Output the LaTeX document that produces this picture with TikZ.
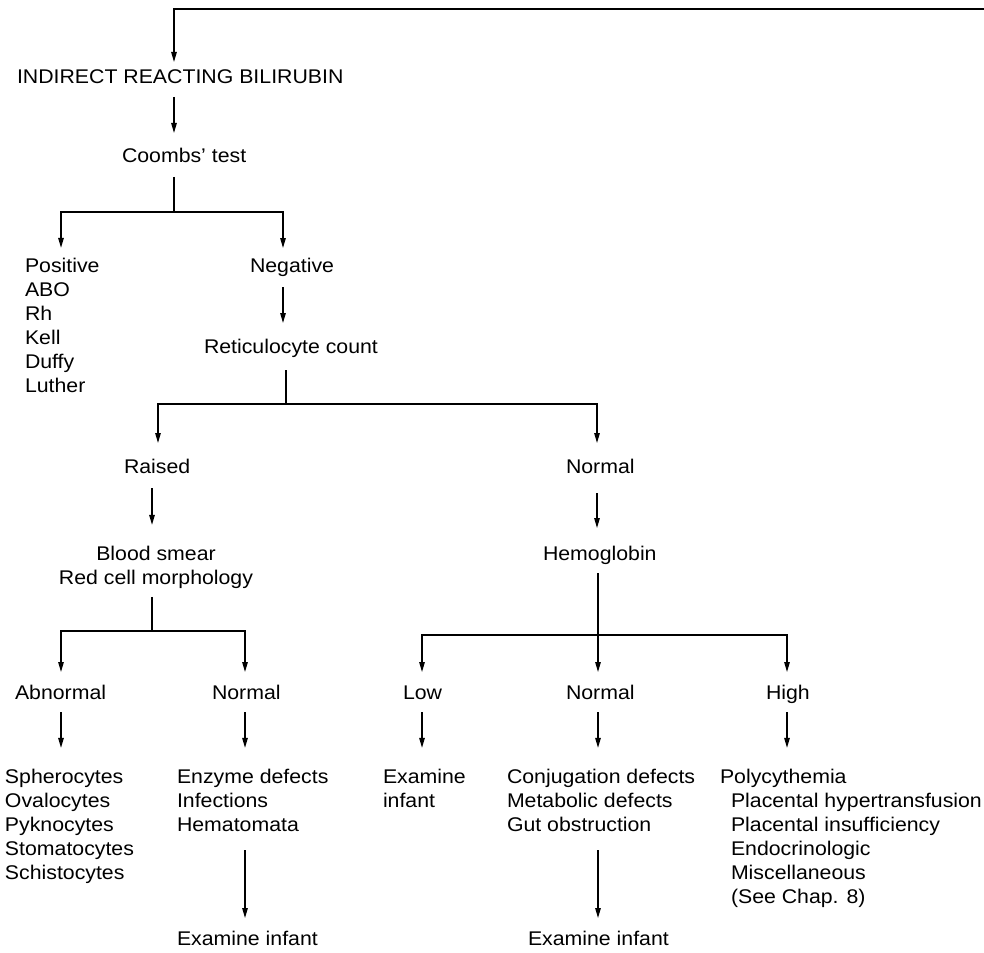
\documentclass[tikz,border=0pt]{standalone}
\usepackage{fontspec}
\setmainfont{Liberation Sans}[FakeStretch=1.075]
\usetikzlibrary{arrows.meta}
\begin{document}
\begin{tikzpicture}[x=1pt,y=1pt,
  every node/.style={inner sep=0pt, outer sep=0pt, font=\fontsize{19.8}{24}\selectfont},
  lbl/.style={text height=14.4pt, text depth=4.2pt, anchor=base west},
  % multi-line blocks are placed by the baseline of their last line
  blk/.style={align=left, anchor=base west},
  wire/.style={line width=1.3pt},
  arr/.style={wire, -{Triangle[length=10pt,width=5.5pt]}},
]
\useasboundingbox (0,0) rectangle (984,-952);

% text
\node[lbl] (ind) at (17,-84) {INDIRECT REACTING BILIRUBIN};
\node[lbl] (coombs) at (122,-163) {Coombs’ test};
\node[blk] (pos) at (25,-392) {Positive\\ABO\\Rh\\Kell\\Duffy\\Luther};
\node[lbl] (neg) at (250,-272) {Negative};
\node[lbl] (retic) at (204,-353) {Reticulocyte count};
\node[lbl] (raised) at (124,-473) {Raised};
\node[align=center, anchor=base] (smear) at (156,-584) {Blood smear\\Red cell morphology};
\node[lbl] (abn) at (15,-699) {Abnormal};
\node[lbl] (normA) at (212,-699) {Normal};
\node[blk] (cells) at (5,-879) {Spherocytes\\Ovalocytes\\Pyknocytes\\Stomatocytes\\Schistocytes};
\node[blk] (enz) at (177,-831) {Enzyme defects\\Infections\\Hematomata};
\node[lbl] (exA) at (177,-945) {Examine infant};
\node[lbl] (normB) at (566,-473) {Normal};
\node[lbl] (hgb) at (543,-560) {Hemoglobin};
\node[lbl] (low) at (403,-699) {Low};
\node[lbl] (normC) at (566,-699) {Normal};
\node[lbl] (high) at (766,-699) {High};
\node[blk] (exLow) at (383,-807) {Examine\\infant};
\node[blk] (conj) at (507,-831) {Conjugation defects\\Metabolic defects\\Gut obstruction};
\node[lbl] (exB) at (528,-945) {Examine infant};
\node[blk] (poly) at (720,-903) {Polycythemia\\\hspace*{11pt}Placental hypertransfusion\\\hspace*{11pt}Placental insufficiency\\\hspace*{11pt}Endocrinologic\\\hspace*{11pt}Miscellaneous\\\hspace*{11pt}(See Chap. 8)};

% junctions and spines
\coordinate (feedE) at (984,-9);
\coordinate (feedW) at (174,-9);
\coordinate (sA) at (174,0);
\coordinate (j1) at (174,-212);
\coordinate (j1l) at (61,-212);
\coordinate (j1r) at (283,-212);
\coordinate (j2) at (286,-404);
\coordinate (j2l) at (158,-404);
\coordinate (j2r) at (597,-404);
\coordinate (sB) at (152,0);
\coordinate (j3) at (152,-631);
\coordinate (j3l) at (61,-631);
\coordinate (j3r) at (245,-631);
\coordinate (j4) at (598,-635);
\coordinate (j4l) at (422,-635);
\coordinate (j4r) at (787,-635);

% connectors
\draw[arr, shorten >=7.6pt] (feedE) -- (feedW) -- (ind.north -| feedW);
\draw[arr, shorten <=8.8pt, shorten >=15.6pt] (ind.south -| sA) -- (coombs.north -| sA);

\draw[wire, shorten <=9.8pt] (coombs.south -| j1) -- (j1);
\draw[arr, shorten >=9.8pt] (j1) -- (j1l) -- (pos.north -| j1l);
\draw[arr, shorten >=9.6pt] (j1) -- (j1r) -- (neg.north -| j1r);
\draw[arr, shorten <=10.8pt, shorten >=15.6pt] (neg.south -| j1r) -- (retic.north -| j1r);

\draw[wire, shorten <=12.8pt] (retic.south -| j2) -- (j2);
\draw[arr, shorten >=15.6pt] (j2) -- (j2l) -- (raised.north -| j2l);
\draw[arr, shorten >=15.6pt] (j2) -- (j2r) -- (normB.north -| j2r);

\draw[arr, shorten <=10.8pt, shorten >=20.8pt] (raised.south -| sB) -- (smear.north -| sB);
\draw[wire, shorten <=8.8pt] (smear.south -| j3) -- (j3);
\draw[arr, shorten >=12.6pt] (j3) -- (j3l) -- (abn.north -| j3l);
\draw[arr, shorten >=12.6pt] (j3) -- (j3r) -- (normA.north -| j3r);
\draw[arr, shorten <=8.8pt, shorten >=20.8pt] (abn.south -| j3l) -- (cells.north -| j3l);
\draw[arr, shorten <=8.8pt, shorten >=20.8pt] (normA.south -| j3r) -- (enz.north -| j3r);
\draw[arr, shorten <=19pt, shorten >=12.6pt] (enz.south -| j3r) -- (exA.north -| j3r);

\draw[arr, shorten <=15.8pt, shorten >=17.6pt] (normB.south -| j2r) -- (hgb.north -| j2r);
\draw[arr, shorten <=8.8pt, shorten >=12.6pt] (hgb.south -| j4) -- (normC.north -| j4);
\draw[arr, shorten >=12.6pt] (j4) -- (j4l) -- (low.north -| j4l);
\draw[arr, shorten >=12.6pt] (j4) -- (j4r) -- (high.north -| j4r);
\draw[arr, shorten <=8.8pt, shorten >=20.8pt] (low.south -| j4l) -- (exLow.north -| j4l);
\draw[arr, shorten <=8.8pt, shorten >=20.8pt] (normC.south -| j4) -- (conj.north -| j4);
\draw[arr, shorten <=19pt, shorten >=12.6pt] (conj.south -| j4) -- (exB.north -| j4);
\draw[arr, shorten <=8.8pt, shorten >=20.8pt] (high.south -| j4r) -- (poly.north -| j4r);
\end{tikzpicture}
\end{document}
